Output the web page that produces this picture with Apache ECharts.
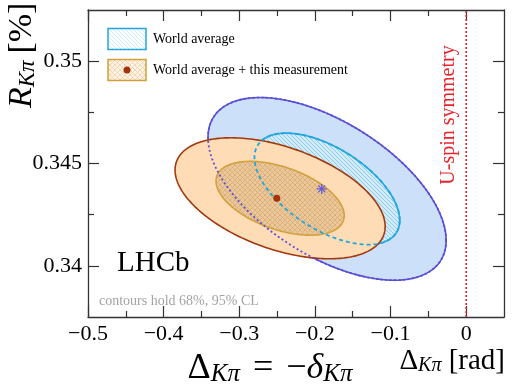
<!DOCTYPE html>
<html>
<head>
<meta charset="utf-8">
<script src="https://cdn.jsdelivr.net/npm/echarts@6/dist/echarts.min.js"></script>
<style>
  html, body { margin: 0; padding: 0; background: #fff; }
  #chart { width: 519px; height: 389px; }
</style>
</head>
<body>
<div id="chart"></div>
<script>
// ---- Axis ranges and ticks ----
const xRange = [-0.5, 0.05];
const yRange = [0.3375, 0.3525];
const xMajorTicks = [-0.5, -0.4, -0.3, -0.2, -0.1, 0];
const xMinorTicks = [-0.45, -0.35, -0.25, -0.15, -0.05];
const yMajorTicks = [0.34, 0.345, 0.35];
const yMinorTicks = [0.3425, 0.3475];

// ---- Confidence contours (2D Gaussian: centre, widths, correlation) ----
// index 0: world average, index 1: world average + this measurement
const contourCentreX = [-0.1839, -0.2460];
const contourCentreY = [0.34376, 0.34330];
const contourSigmaX = [0.06332, 0.05587];
const contourSigmaY = [0.0017954, 0.0011891];
const contourRho = [-0.563, -0.467];
// Delta chi^2 for 68% and 95% CL with two parameters
const clLevels = [2.30, 6.18];

// ---- Best-fit points ----
const bestFitX = [-0.191, -0.2504];
const bestFitY = [0.34376, 0.3433];

// U-spin symmetric value of Delta_Kpi
const uSpinX = 0;

const SERIF = 'Liberation Serif';
const C = {
  waOuterFill: '#cce0fa', waOuterLine: '#5a4fd4',
  waInnerLine: '#22a6de',
  cbOuterFill: '#fddcb6', cbOuterLine: '#a3380e',
  cbInnerLine: '#d3a03e',
  red: '#e8232b', star: '#6a5bd6', dot: '#a3330a', frame: '#333333'
};

// Hatch tiles used as pattern fills
function makeHatch(bg, line, size, dirs, width) {
  const c = document.createElement('canvas');
  c.width = size; c.height = size;
  const g = c.getContext('2d');
  g.fillStyle = bg; g.fillRect(0, 0, size, size);
  g.strokeStyle = line; g.lineWidth = width;
  dirs.forEach(function (d) {
    [-size, 0, size].forEach(function (o) {
      g.beginPath();
      if (d === '\\') { g.moveTo(o, 0); g.lineTo(o + size, size); }
      else { g.moveTo(o, size); g.lineTo(o + size, 0); }
      g.stroke();
    });
  });
  return c;
}
const waHatch = makeHatch('#d3ebf8', '#86cbeb', 4, ['\\'], 0.9);
const cbHatch = makeHatch('#eac89c', '#d8aa70', 5, ['\\', '/'], 0.8);
const waLegendHatch = makeHatch('#ffffff', '#c6e6f6', 4, ['\\'], 0.8);
const cbLegendHatch = makeHatch('#fff3e6', '#f0cfa6', 5, ['\\', '/'], 0.8);

function ellipsePoints(api, cx, cy, sx, sy, rho, k) {
  const r = Math.sqrt(k);
  const q = Math.sqrt(1 - rho * rho);
  const pts = [];
  for (let i = 0; i < 240; i++) {
    const t = 2 * Math.PI * i / 240;
    const u = Math.cos(t), v = Math.sin(t);
    pts.push(api.coord([cx + r * sx * u, cy + r * sy * (rho * u + q * v)]));
  }
  return pts;
}

function contourSeries(idx, level, style, z) {
  return {
    type: 'custom',
    z: z,
    clip: true,
    silent: true,
    data: [[contourCentreX[idx], contourCentreY[idx], contourSigmaX[idx], contourSigmaY[idx], contourRho[idx], clLevels[level]]],
    renderItem: function (params, api) {
      return {
        type: 'polygon',
        shape: { points: ellipsePoints(api, api.value(0), api.value(1), api.value(2), api.value(3), api.value(4), api.value(5)) },
        style: style
      };
    }
  };
}

function fmtX(v) { return v < 0 ? '\u2212' + String(-v) : String(v); }

function xAxisPair(pos) {
  const base = { type: 'value', position: pos, min: xRange[0], max: xRange[1], splitLine: { show: false } };
  return [
    Object.assign({}, base, {
      axisLine: { show: true, onZero: false, lineStyle: { color: C.frame, width: 1.3 } },
      axisTick: { show: true, inside: true, length: 11, customValues: xMajorTicks, lineStyle: { color: C.frame, width: 1.2 } },
      axisLabel: pos === 'bottom'
        ? { show: true, customValues: xMajorTicks, formatter: fmtX, color: '#000', fontFamily: SERIF, fontSize: 22, margin: 6 }
        : { show: false }
    }),
    Object.assign({}, base, {
      axisLine: { show: false, onZero: false },
      axisTick: { show: true, inside: true, length: 6, customValues: xMinorTicks, lineStyle: { color: C.frame, width: 1.2 } },
      axisLabel: { show: false }
    })
  ];
}
function yAxisPair(pos) {
  const base = { type: 'value', position: pos, min: yRange[0], max: yRange[1], splitLine: { show: false } };
  return [
    Object.assign({}, base, {
      axisLine: { show: true, onZero: false, lineStyle: { color: C.frame, width: 1.3 } },
      axisTick: { show: true, inside: true, length: 11, customValues: yMajorTicks, lineStyle: { color: C.frame, width: 1.2 } },
      axisLabel: pos === 'left'
        ? { show: true, customValues: yMajorTicks, formatter: function (v) { return String(v); }, color: '#000', fontFamily: SERIF, fontSize: 22, margin: 6 }
        : { show: false }
    }),
    Object.assign({}, base, {
      axisLine: { show: false, onZero: false },
      axisTick: { show: true, inside: true, length: 6, customValues: yMinorTicks, lineStyle: { color: C.frame, width: 1.2 } },
      axisLabel: { show: false }
    })
  ];
}

const chart = echarts.init(document.getElementById('chart'), null, { renderer: 'canvas' });

const option = {
  animation: false,
  backgroundColor: '#ffffff',
  grid: { left: 88, right: 15, top: 10, bottom: 72, containLabel: false, outerBoundsMode: 'none' },
  xAxis: xAxisPair('bottom').concat(xAxisPair('top')),
  yAxis: yAxisPair('left').concat(yAxisPair('right')),
  series: [
    // world average, 95% then 68%
    contourSeries(0, 1, { fill: C.waOuterFill, stroke: C.waOuterLine, lineWidth: 1.6 }, 1),
    contourSeries(0, 0, { fill: { image: waHatch, repeat: 'repeat' }, stroke: C.waInnerLine, lineWidth: 1.6 }, 2),
    // combination, 95% then 68%
    contourSeries(1, 1, { fill: C.cbOuterFill, stroke: C.cbOuterLine, lineWidth: 1.6 }, 3),
    contourSeries(1, 0, { fill: { image: cbHatch, repeat: 'repeat' }, stroke: C.cbInnerLine, lineWidth: 1.6 }, 4),
    // world-average outlines where hidden below the combination
    contourSeries(0, 1, { fill: 'none', stroke: C.waOuterLine, lineWidth: 1.8, lineDash: [2, 2.5] }, 5),
    contourSeries(0, 0, { fill: 'none', stroke: C.waInnerLine, lineWidth: 1.8, lineDash: [4, 3] }, 6),
    // U-spin symmetry line
    {
      type: 'custom', z: 7, silent: true, clip: true,
      data: [[uSpinX, yRange[0], yRange[1]]],
      renderItem: function (params, api) {
        const p0 = api.coord([api.value(0), api.value(1)]);
        const p1 = api.coord([api.value(0), api.value(2)]);
        return { type: 'line', shape: { x1: p0[0], y1: p0[1], x2: p1[0], y2: p1[1] },
          style: { stroke: C.red, lineWidth: 1.6, lineDash: [2, 2] } };
      }
    },
    // best-fit markers
    {
      type: 'custom', z: 8, silent: true,
      data: bestFitX.map(function (x, i) { return [x, bestFitY[i], i]; }),
      renderItem: function (params, api) {
        const p = api.coord([api.value(0), api.value(1)]);
        if (api.value(2) === 0) {
          const r = 5, ch = [];
          for (let a = 0; a < 4; a++) {
            const ang = a * Math.PI / 4;
            ch.push({ type: 'line', shape: { x1: p[0] - r * Math.cos(ang), y1: p[1] - r * Math.sin(ang), x2: p[0] + r * Math.cos(ang), y2: p[1] + r * Math.sin(ang) },
              style: { stroke: C.star, lineWidth: 1.3 } });
          }
          return { type: 'group', children: ch };
        }
        return { type: 'circle', shape: { cx: p[0], cy: p[1], r: 3.5 }, style: { fill: C.dot } };
      }
    }
  ],
  graphic: [
    // legend
    { type: 'rect', shape: { x: 108, y: 28.5, width: 38, height: 21 }, style: { fill: { image: waLegendHatch, repeat: 'repeat' }, stroke: C.waInnerLine, lineWidth: 1.5 }, z: 20 },
    { type: 'group', x: 127, y: 39, z: 21, children: [0, 1, 2, 3].map(function (a) {
        const ang = a * Math.PI / 4, r = 4.5;
        return { type: 'line', shape: { x1: -r * Math.cos(ang), y1: -r * Math.sin(ang), x2: r * Math.cos(ang), y2: r * Math.sin(ang) }, style: { stroke: C.star, lineWidth: 1.2 } };
      }) },
    { type: 'text', x: 153, y: 39, z: 21, style: { text: 'World average', fontFamily: SERIF, fontSize: 14, fill: '#000', verticalAlign: 'middle' } },
    { type: 'rect', shape: { x: 108, y: 59.5, width: 38, height: 21 }, style: { fill: { image: cbLegendHatch, repeat: 'repeat' }, stroke: C.cbInnerLine, lineWidth: 1.5 }, z: 20 },
    { type: 'circle', shape: { cx: 127, cy: 70, r: 3.5 }, style: { fill: C.dot }, z: 21 },
    { type: 'text', x: 153, y: 70, z: 21, style: { text: 'World average + this measurement', fontFamily: SERIF, fontSize: 14, fill: '#000', verticalAlign: 'middle' } },
    // experiment label and note
    { type: 'text', x: 117, y: 263, z: 21, style: { text: 'LHCb', fontFamily: SERIF, fontSize: 29, fill: '#000', verticalAlign: 'middle' } },
    { type: 'text', x: 99, y: 301, z: 21, style: { text: 'contours hold 68%, 95% CL', fontFamily: SERIF, fontSize: 14, fill: '#a3a3a3', verticalAlign: 'middle' } },
    // U-spin label
    { type: 'text', x: 449, y: 115, rotation: Math.PI / 2, z: 21, style: { text: 'U-spin symmetry', fontFamily: SERIF, fontSize: 20, fill: C.red, align: 'center', verticalAlign: 'middle' } },
    // y-axis title
    { type: 'text', x: 22, y: 108, rotation: Math.PI / 2, z: 21, style: {
        text: '{r|R}{s|K\u03c0}{n|\u2009[%]}', align: 'left', verticalAlign: 'middle', fill: '#000',
        rich: {
          r: { fontFamily: SERIF, fontStyle: 'italic', fontSize: 34, lineHeight: 34 },
          s: { fontFamily: SERIF, fontStyle: 'italic', fontSize: 23, lineHeight: 16, verticalAlign: 'bottom' },
          n: { fontFamily: SERIF, fontSize: 34, lineHeight: 34 }
        } } },
    // x-axis titles
    { type: 'text', x: 505, y: 361, z: 21, style: {
        text: '{d|\u0394}{s|K\u03c0}{n| [rad]}', align: 'right', verticalAlign: 'middle', fill: '#000',
        rich: {
          d: { fontFamily: SERIF, fontSize: 29, lineHeight: 29 },
          s: { fontFamily: SERIF, fontStyle: 'italic', fontSize: 20, lineHeight: 13, verticalAlign: 'bottom' },
          n: { fontFamily: SERIF, fontSize: 29, lineHeight: 29 }
        } } },
    { type: 'text', x: 270, y: 369, z: 21, style: {
        text: '{d|\u0394}{s|K\u03c0}{e|=}{d|\u2212}{i|\u03b4}{s|K\u03c0}', align: 'center', verticalAlign: 'middle', fill: '#000',
        rich: {
          d: { fontFamily: SERIF, fontSize: 36, lineHeight: 36 },
          i: { fontFamily: SERIF, fontStyle: 'italic', fontSize: 36, lineHeight: 36 },
          e: { fontFamily: SERIF, fontSize: 36, lineHeight: 36, padding: [0, 13, 0, 13] },
          s: { fontFamily: SERIF, fontStyle: 'italic', fontSize: 25, lineHeight: 16, verticalAlign: 'bottom' }
        } } }
  ]
};

chart.setOption(option);
</script>
</body>
</html>
